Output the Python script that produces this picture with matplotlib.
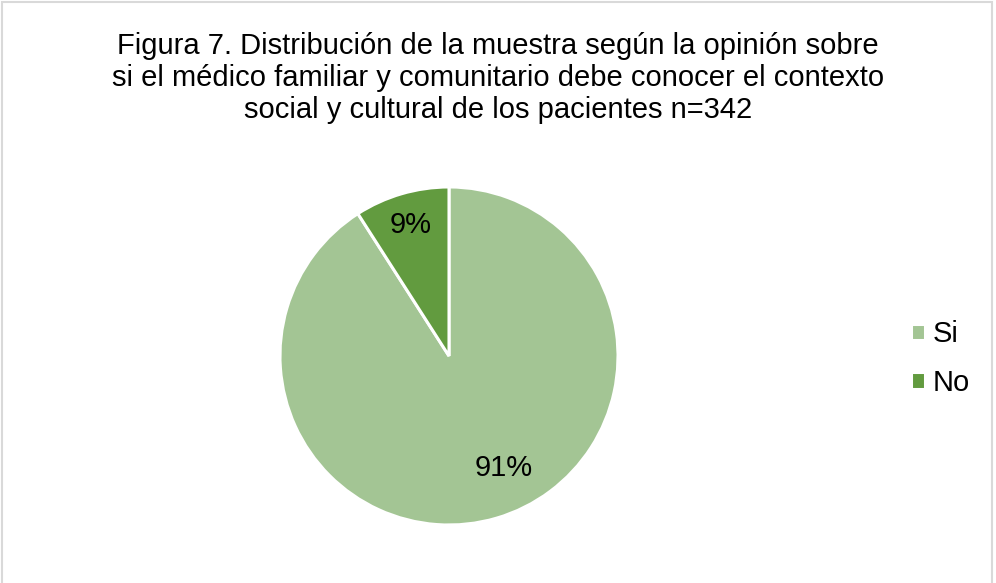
import matplotlib.pyplot as plt
from matplotlib.patches import Rectangle

plt.rcParams['font.family'] = ['Liberation Sans', 'DejaVu Sans']

labels = ['Si', 'No']
counts = [311, 31]
colors = ['#A3C594', '#629B3F']
pct_labels = ['91%', '9%']

fig = plt.figure(figsize=(9.96, 5.83), dpi=100)

# chart border
fig.patches.append(Rectangle((0.002, -0.01), 0.994, 1.006, transform=fig.transFigure,
                             fill=False, edgecolor='#D9D9D9', linewidth=1.5))

fig.text(0.5, 0.945, 'Figura 7. Distribución de la muestra según la opinión sobre\n'
         'si el médico familiar y comunitario debe conocer el contexto\n'
         'social y cultural de los pacientes n=342',
         ha='center', va='top', fontsize=21, linespacing=1.19, color='#000000')

ax = fig.add_axes([0.2811, 0.0995, 0.3394, 0.5798])
wedges, _ = ax.pie(counts, colors=colors, startangle=90, counterclock=False,
                   wedgeprops=dict(edgecolor='white', linewidth=2.2))
ax.set_xlim(-1, 1)
ax.set_ylim(-1, 1)
ax.set_aspect('equal')

# label positions in data units (Excel style placement)
label_pos = [(0.325, -0.66), (-0.225, 0.775)]
for txt, (x, y) in zip(pct_labels, label_pos):
    ax.text(x, y, txt, ha='center', va='center', fontsize=21, color='#000000')

leg = fig.legend(wedges, labels, loc='center left', bbox_to_anchor=(0.888, 0.385),
                 frameon=False, fontsize=21, handlelength=0.5, handleheight=0.5,
                 handletextpad=0.25, labelspacing=0.7)

fig.savefig('out.png', dpi=100)
